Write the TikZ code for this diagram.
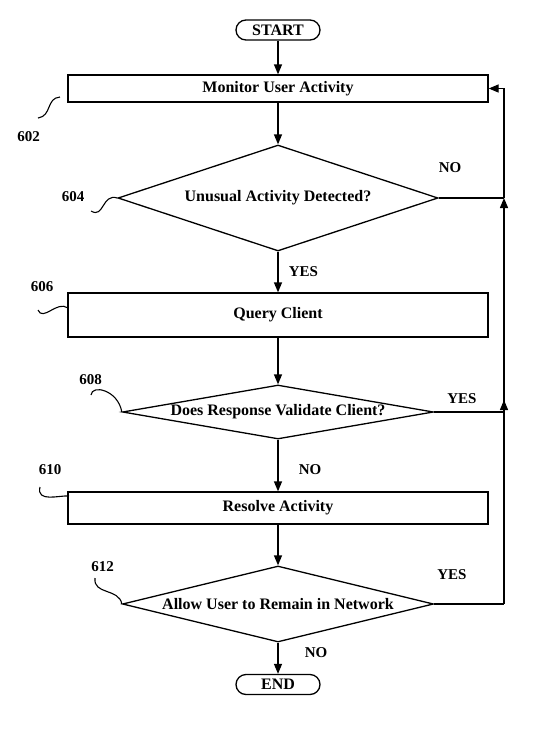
\documentclass[tikz,border=0pt]{standalone}
\usepackage{fontspec}
\setmainfont{Liberation Serif}
\usepackage{tikz}
\usetikzlibrary{arrows.meta,positioning,shapes.geometric,calc}

\begin{document}
\begin{tikzpicture}[x=1pt, y=-1pt, line width=1.3pt,
  every node/.style={font=\fontsize{16}{18}\selectfont\bfseries},
  term/.style={draw, rounded corners=10pt, minimum width=84pt, minimum height=20pt, inner sep=0pt},
  stepbox/.style={draw, minimum width=420pt, inner sep=0pt},
  test/.style={draw, diamond, inner sep=0pt},
  arr/.style={-{Triangle[length=10pt,width=8pt]}},
  lbl/.style={font=\fontsize{15}{17}\selectfont\bfseries},
  squig/.style={line width=1.1pt}]
\useasboundingbox (0,0) rectangle (541,753);
% main column
\node[term] (start) at (278,30) {START};
\node[stepbox, minimum height=27pt] (mon) at (278,88.5) {Monitor User Activity};
\node[test, minimum width=320pt, minimum height=106pt, aspect=3] (det) at (278,198) {Unusual Activity Detected?};
\node[stepbox, minimum height=44pt] (qry) at (278,315) {Query Client};
\node[test, minimum width=311pt, minimum height=54pt, aspect=5.76] (val) at (278,412) {Does Response Validate Client?};
\node[stepbox, minimum height=32pt] (res) at (278,508) {Resolve Activity};
\node[test, minimum width=311pt, minimum height=76pt, aspect=4.1] (rem) at (278,604) {Allow User to Remain in Network};
\node[term] (fin) at (278,684.5) {END};
\foreach \a/\b in {start/mon, mon/det, det/qry, qry/val, val/res, res/rem, rem/fin}
  \draw[arr] (\a) -- (\b);
% return line
\coordinate (rtop) at (504,88.5);
\draw (rem.east) -- (rem.east -| rtop) coordinate (r3);
\draw (val.east) -- (val.east -| rtop) coordinate (r2);
\draw (det.east) -- (det.east -| rtop) coordinate (r1);
\draw[arr] (r3) -- ([yshift=12pt]r2);
\draw[arr] (r2) -- (r1);
\draw[arr] (r1) -- (rtop) -- (mon.east);
% branch labels
\node[lbl] (no1) at (450,168) {NO};
\node[lbl] (yes1) at (303.5,272) {YES};
\node[lbl] (yes2) at (462,399) {YES};
\node[lbl] (no2) at (310,470) {NO};
\node[lbl] (yes3) at (452,575) {YES};
\node[lbl] (no3) at (316,653) {NO};
% reference numerals
\node[lbl] (n602) at (28.5,137) {602};
\node[lbl] (n604) at (73,197) {604};
\node[lbl] (n606) at (42,287) {606};
\node[lbl] (n608) at (90.5,380) {608};
\node[lbl] (n610) at (50,470) {610};
\node[lbl] (n612) at (102.5,567) {612};
\draw[squig] (38,118) .. controls (52,116) and (46,98) .. (60,97);
\draw[squig] (91,211) .. controls (104,219) and (102,193) .. (det.west);
\draw[squig] (38,310) .. controls (43,322) and (57,300) .. (68,308);
\draw[squig] (91,395) .. controls (92,384) and (118,390) .. (val.west);
\draw[squig] (40,487) .. controls (36,503) and (60,495) .. (69,496);
\draw[squig] (95,578) .. controls (93,595) and (119,588) .. (rem.west);
\end{tikzpicture}
\end{document}
